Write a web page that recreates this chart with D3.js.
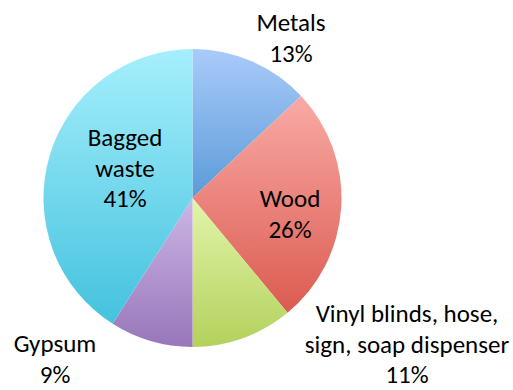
<!DOCTYPE html>
<html>
<head>
<meta charset="utf-8">
<script src="https://cdn.jsdelivr.net/npm/d3@7"></script>
<style>
  html, body { margin: 0; padding: 0; background: #fff; }
  svg { display: block; }
  text { font-family: Carlito, Lato, "Open Sans", sans-serif; fill: #000; }
</style>
</head>
<body>
<svg id="chart" width="513" height="390"></svg>
<script>
// Waste composition shares, clockwise from 12 o'clock
const categories = ["Metals", "Wood", "Vinyl blinds, hose, sign, soap dispenser", "Gypsum", "Bagged waste"];
const shares = [13, 26, 11, 9, 41];
const labelLines = [
  ["Metals"],
  ["Wood"],
  ["Vinyl blinds, hose,", "sign, soap dispenser"],
  ["Gypsum"],
  ["Bagged", "waste"]
];

// Vertical gradient stops (top, bottom) for each slice
const gradTop = ["#aacbfa", "#f9aaa5", "#e2f5aa", "#cdb6e6", "#a6effc"];
const gradBottom = ["#5b9bd8", "#db5b50", "#b3d15c", "#9876ba", "#44c2de"];

// Label layout: centre x and first baseline for each slice's label block
const labelPos = [[291, 31], [290, 207], [407, 322], [55, 352], [125, 146]];
const lineHeight = 30.5;

const svg = d3.select("#chart");
const cx = 192.5, cy = 198, r = 149;

const defs = svg.append("defs");
categories.forEach((c, i) => {
  const g = defs.append("linearGradient")
    .attr("id", "grad" + i)
    .attr("x1", 0).attr("y1", 0).attr("x2", 0).attr("y2", 1);
  g.append("stop").attr("offset", "0%").attr("stop-color", gradTop[i]);
  g.append("stop").attr("offset", "100%").attr("stop-color", gradBottom[i]);
});

const pie = d3.pie().sort(null).value(d => d);
const arc = d3.arc().innerRadius(0).outerRadius(r);
const arcs = pie(shares);

const root = svg.append("g").attr("transform", `translate(${cx},${cy})`);
root.selectAll("path")
  .data(arcs)
  .join("path")
  .attr("d", arc)
  .attr("fill", (d, i) => `url(#grad${i})`);

const total = d3.sum(shares);
const labels = svg.append("g");
arcs.forEach((d, i) => {
  const [x, y] = labelPos[i];
  const lines = labelLines[i].concat([Math.round(d.value / total * 100) + "%"]);
  const t = labels.append("text")
    .attr("text-anchor", "middle")
    .attr("font-size", 25);
  lines.forEach((ln, k) => {
    t.append("tspan").attr("x", x).attr("y", y + k * lineHeight).text(ln);
  });
});
</script>
</body>
</html>
